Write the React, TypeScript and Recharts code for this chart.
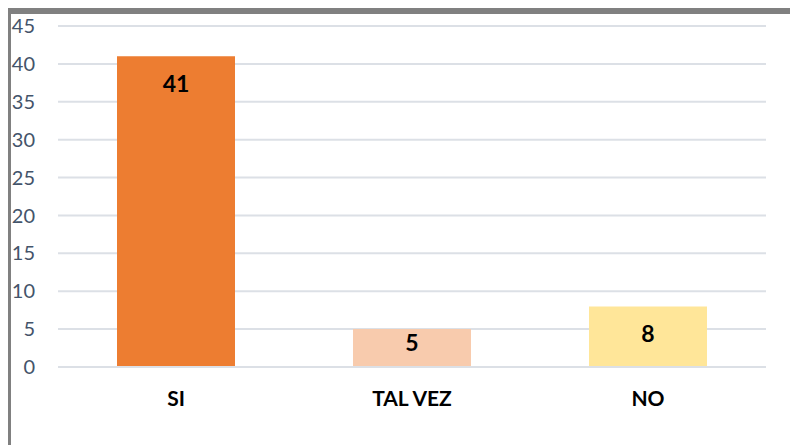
import { Bar, BarChart, CartesianGrid, Cell, LabelList, XAxis, YAxis } from "recharts";

const categories = ["SI", "TAL VEZ", "NO"];
const values = [41, 5, 8];
const barColors = ["#ED7D31", "#F8CBAD", "#FFE699"];
const yTicks = [0, 5, 10, 15, 20, 25, 30, 35, 40, 45];

const data = categories.map((name, i) => ({ name, value: values[i] }));

const FONT = "Lato, 'Open Sans', sans-serif";

// Excel-style "inside end" label: sits below the bar top, moves up on short bars
function InsideEndLabel(props: any) {
  const { x, y, width, height, value } = props;
  const offset = Math.min(18, Math.max(3, height - 34));
  return (
    <text
      x={x + width / 2}
      y={y + offset}
      dy="0.78em"
      textAnchor="middle"
      fontFamily={FONT}
      fontWeight={700}
      fontSize={23}
      fill="#000000"
    >
      {value}
    </text>
  );
}

export default function App() {
  return (
    <div style={{ position: "relative", width: 798, height: 445, margin: "-8px 0 0 -8px", background: "#fff" }}>
      <div
        style={{
          position: "absolute",
          left: 5,
          top: 8,
          right: 0,
          bottom: 0,
          borderTop: "6px solid #808080",
          borderLeft: "6px solid #808080",
          borderTopLeftRadius: 3,
        }}
      />
      <div style={{ position: "absolute", left: 0, top: 0 }}>
        <BarChart
          width={798}
          height={445}
          data={data}
          margin={{ top: 26, right: 32, left: 0, bottom: 48 }}
          barCategoryGap="25%"
        >
          <CartesianGrid stroke="#DCE0E6" strokeWidth={2} vertical={false} />
          <XAxis
            dataKey="name"
            height={30}
            axisLine={{ stroke: "#DCE0E6", strokeWidth: 2 }}
            tickLine={false}
            tickSize={0}
            tickMargin={24}
            interval={0}
            tick={{ fill: "#000000", fontFamily: FONT, fontWeight: 700, fontSize: 21 }}
          />
          <YAxis
            width={58}
            domain={[0, 45]}
            ticks={yTicks}
            interval={0}
            axisLine={false}
            tickLine={false}
            tickSize={0}
            tickMargin={23}
            tick={{ fill: "#44546A", fontFamily: FONT, fontSize: 20 }}
          />
          <Bar dataKey="value" isAnimationActive={false}>
            {data.map((d, i) => (
              <Cell key={d.name} fill={barColors[i]} />
            ))}
            <LabelList dataKey="value" content={InsideEndLabel} />
          </Bar>
        </BarChart>
      </div>
    </div>
  );
}
